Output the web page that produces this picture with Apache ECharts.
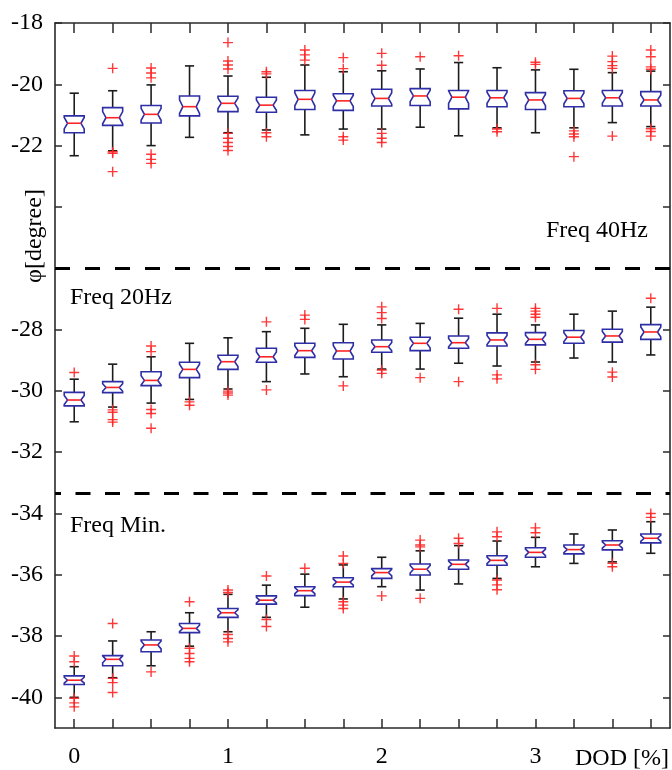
<!DOCTYPE html>
<html>
<head>
<meta charset="utf-8">
<script src="https://cdn.jsdelivr.net/npm/echarts@6/dist/echarts.min.js"></script>
<style>
  html, body { margin: 0; padding: 0; background: #fff; }
  #chart { width: 672px; height: 770px; }
</style>
</head>
<body>
<div id="chart"></div>
<script>
// Depth of discharge steps (x categories)
const dod = ['0', '0.25', '0.5', '0.75', '1', '1.25', '1.5', '1.75',
             '2', '2.25', '2.5', '2.75', '3', '3.25', '3.5', '3.75'];

// Box statistics per DOD step: [lower whisker, Q1, median, Q3, upper whisker]
const box40Hz = [
  [-22.33, -21.58, -21.27, -21.03, -20.29],
  [-22.17, -21.34, -21.09, -20.76, -20.21],
  [-22.00, -21.26, -20.98, -20.69, -20.02],
  [-21.73, -21.03, -20.73, -20.38, -19.40],
  [-21.58, -20.89, -20.62, -20.39, -19.73],
  [-21.49, -20.91, -20.68, -20.42, -19.77],
  [-21.65, -20.82, -20.49, -20.20, -19.37],
  [-21.46, -20.85, -20.54, -20.31, -19.59],
  [-21.46, -20.71, -20.46, -20.16, -19.56],
  [-21.40, -20.69, -20.38, -20.14, -19.50],
  [-21.68, -20.80, -20.42, -20.20, -19.29],
  [-21.42, -20.73, -20.44, -20.20, -19.46],
  [-21.58, -20.82, -20.51, -20.27, -19.53],
  [-21.42, -20.73, -20.46, -20.21, -19.51],
  [-21.25, -20.71, -20.44, -20.20, -19.62],
  [-21.38, -20.71, -20.51, -20.24, -19.57]
];
const outliers40Hz = [
  [],
  [-19.48, -22.20, -22.25, -22.85],
  [-19.47, -19.63, -19.79, -22.28, -22.45, -22.58],
  [],
  [-18.64, -19.24, -19.37, -19.50, -21.60, -21.76, -21.90, -22.03, -22.16],
  [-19.59, -19.66, -21.58, -21.71],
  [-18.88, -19.04, -19.21],
  [-19.13, -19.49, -21.71, -21.82],
  [-18.99, -19.38, -21.60, -21.76, -21.90],
  [-19.10],
  [-19.07],
  [-21.46, -21.55],
  [-19.28, -19.35],
  [-21.52, -21.62, -21.71, -22.36],
  [-19.08, -19.26, -19.39, -19.48, -21.69],
  [-18.88, -19.10, -19.43, -19.51, -21.45, -21.54, -21.69]
];

const box20Hz = [
  [-31.01, -30.49, -30.30, -30.05, -29.62],
  [-30.53, -30.06, -29.89, -29.70, -29.13],
  [-30.40, -29.83, -29.66, -29.38, -28.89],
  [-30.28, -29.57, -29.30, -29.07, -28.45],
  [-29.94, -29.30, -29.05, -28.84, -28.27],
  [-29.70, -29.07, -28.89, -28.61, -28.07],
  [-29.45, -28.91, -28.69, -28.45, -27.96],
  [-29.54, -28.96, -28.70, -28.43, -27.83],
  [-29.29, -28.74, -28.56, -28.34, -27.85],
  [-29.29, -28.69, -28.45, -28.25, -27.80],
  [-29.10, -28.61, -28.43, -28.21, -27.63],
  [-29.19, -28.54, -28.34, -28.11, -27.50],
  [-29.06, -28.50, -28.32, -28.10, -27.85],
  [-28.93, -28.45, -28.25, -28.03, -27.50],
  [-29.06, -28.41, -28.21, -27.99, -27.40],
  [-28.83, -28.32, -28.08, -27.84, -27.27]
];
const outliers20Hz = [
  [-29.40],
  [-30.62, -30.70, -30.94, -31.02],
  [-28.54, -28.72, -30.61, -30.74, -31.22],
  [-30.36, -30.47],
  [-30.01, -30.07, -30.14],
  [-27.75, -29.97],
  [-27.53, -27.67],
  [-29.84],
  [-27.26, -27.45, -27.64, -29.32, -29.43],
  [-29.57],
  [-27.34, -29.70],
  [-27.31, -29.48, -29.61],
  [-27.31, -27.40, -27.50, -27.60, -29.15, -29.30],
  [],
  [-29.39, -29.55],
  [-26.98]
];

const boxMin = [
  [-40.00, -39.58, -39.44, -39.30, -39.00],
  [-39.36, -38.97, -38.76, -38.64, -38.16],
  [-38.97, -38.51, -38.29, -38.13, -37.86],
  [-38.33, -37.89, -37.75, -37.59, -37.24],
  [-37.86, -37.39, -37.24, -37.10, -36.64],
  [-37.39, -36.96, -36.83, -36.69, -36.34],
  [-37.06, -36.68, -36.52, -36.39, -35.98],
  [-36.79, -36.39, -36.24, -36.10, -35.68],
  [-36.39, -36.12, -35.93, -35.80, -35.43],
  [-36.50, -36.01, -35.82, -35.65, -35.22],
  [-36.30, -35.82, -35.66, -35.52, -35.05],
  [-36.12, -35.69, -35.53, -35.38, -34.90],
  [-35.74, -35.43, -35.27, -35.12, -34.78],
  [-35.63, -35.32, -35.18, -35.03, -34.67],
  [-35.58, -35.19, -35.03, -34.89, -34.54],
  [-35.30, -34.96, -34.81, -34.67, -34.27]
];
const outliersMin = [
  [-38.65, -38.84, -40.03, -40.18, -40.31],
  [-37.59, -39.38, -39.52, -39.84],
  [-39.17],
  [-36.88, -38.40, -38.57, -38.73, -38.84],
  [-36.50, -36.58, -37.95, -38.08, -38.19],
  [-36.04, -37.46, -37.69],
  [-35.79],
  [-35.39, -35.63, -36.88, -36.99, -37.10],
  [-36.69],
  [-34.87, -35.03, -35.09, -36.77],
  [-34.81, -34.98],
  [-34.60, -34.76, -36.17, -36.33, -36.49],
  [-34.47, -34.63],
  [],
  [-35.63, -35.74],
  [-34.00, -34.13]
];

// Panel separators (phase values) and axis ticks
const separators = [-26, -33.35];
const yTickValues = [-40, -38, -36, -34, -32, -30, -28, -26, -24, -22, -20, -18];
const yLabelValues = [-40, -38, -36, -34, -32, -30, -28, -22, -20, -18];

const FONT = "'Liberation Serif', 'Times New Roman', serif";
const BOX_COLOR = '#2e2ea6';
const RED = '#ff2424';
const INK = '#1c1c1c';

function boxRows(stats) {
  return stats.map((s, i) => [i].concat(s));
}
function outlierPoints(list) {
  const pts = [];
  list.forEach((vals, i) => vals.forEach(v => pts.push([i, v])));
  return pts;
}

// Notched box: whiskers, notched box outline, median line
function renderNotchedBox(params, api) {
  const i = api.value(0);
  const lo = api.value(1), q1 = api.value(2), med = api.value(3), q3 = api.value(4), hi = api.value(5);
  const py = v => api.coord([i, v])[1];
  const cx = api.coord([i, med])[0];
  const band = api.size([1, 0])[0];
  const hw = band * 0.26;
  const inset = hw * 0.33;
  const capW = 4.6;
  const yLo = py(lo), yQ1 = py(q1), yMed = py(med), yQ3 = py(q3), yHi = py(hi);
  const iqr = yQ1 - yQ3;
  const nDown = Math.min(iqr * 0.34, yQ1 - yMed);
  const nUp = Math.min(iqr * 0.34, yMed - yQ3);
  const whiskerStyle = { stroke: INK, lineWidth: 1.6 };
  const l = cx - hw, r = cx + hw;
  return {
    type: 'group',
    children: [
      { type: 'line', shape: { x1: cx, y1: yQ3, x2: cx, y2: yHi }, style: whiskerStyle },
      { type: 'line', shape: { x1: cx, y1: yQ1, x2: cx, y2: yLo }, style: whiskerStyle },
      { type: 'line', shape: { x1: cx - capW, y1: yHi, x2: cx + capW, y2: yHi }, style: whiskerStyle },
      { type: 'line', shape: { x1: cx - capW, y1: yLo, x2: cx + capW, y2: yLo }, style: whiskerStyle },
      {
        type: 'polygon',
        shape: {
          points: [
            [l, yQ1], [l, yMed + nDown], [l + inset, yMed], [l, yMed - nUp], [l, yQ3],
            [r, yQ3], [r, yMed - nUp], [r - inset, yMed], [r, yMed + nDown], [r, yQ1]
          ]
        },
        style: { fill: '#fff', stroke: BOX_COLOR, lineWidth: 1.6 }
      },
      { type: 'line', shape: { x1: l + inset, y1: yMed, x2: r - inset, y2: yMed }, style: { stroke: RED, lineWidth: 1.6 } }
    ]
  };
}

const plusSymbol = 'path://M4.3,0H5.7V4.3H10V5.7H5.7V10H4.3V5.7H0V4.3H4.3Z';

function boxSeries(name, stats) {
  return {
    name: name,
    type: 'custom',
    renderItem: renderNotchedBox,
    encode: { x: 0, y: [1, 2, 3, 4, 5] },
    data: boxRows(stats),
    z: 3
  };
}
function outlierSeries(name, list) {
  return {
    name: name,
    type: 'scatter',
    symbol: plusSymbol,
    symbolSize: 10,
    itemStyle: { color: RED, opacity: 0.9 },
    data: outlierPoints(list),
    z: 4
  };
}

const chart = echarts.init(document.getElementById('chart'), null, { renderer: 'canvas' });

const axisLine = { show: true, lineStyle: { color: '#2a2a2a', width: 1.6 } };
const yTick = { show: true, inside: true, length: 7, customValues: yTickValues, lineStyle: { color: '#2a2a2a', width: 1.5 } };

const textItems = [
  {
    type: 'text', x: 35, y: 236, rotation: Math.PI / 2,
    style: { text: 'φ[degree]', font: '24px ' + FONT, fill: '#000', textAlign: 'center', textVerticalAlign: 'middle' }
  },
  {
    type: 'text', x: 648, y: 231,
    style: { text: 'Freq 40Hz', font: '24px ' + FONT, fill: '#000', textAlign: 'right', textVerticalAlign: 'middle' }
  },
  {
    type: 'text', x: 70, y: 298,
    style: { text: 'Freq 20Hz', font: '24px ' + FONT, fill: '#000', textAlign: 'left', textVerticalAlign: 'middle' }
  },
  {
    type: 'text', x: 70, y: 526,
    style: { text: 'Freq Min.', font: '24px ' + FONT, fill: '#000', textAlign: 'left', textVerticalAlign: 'middle' }
  },
  {
    type: 'text', x: 669, y: 759,
    style: { text: 'DOD [%]', font: '24px ' + FONT, fill: '#000', textAlign: 'right', textVerticalAlign: 'middle' }
  }
];

chart.setOption({
  animation: false,
  backgroundColor: '#fff',
  textStyle: { fontFamily: FONT },
  grid: { left: 55, right: 2, top: 23, bottom: 42, containLabel: false },
  xAxis: [
    {
      type: 'category',
      data: dod,
      position: 'bottom',
      axisLine: axisLine,
      axisTick: { show: true, inside: true, interval: 0, alignWithLabel: true, length: 9, lineStyle: { color: '#2a2a2a', width: 1.5 } },
      axisLabel: {
        interval: 3,
        margin: 17,
        color: '#000',
        fontFamily: FONT,
        fontSize: 24,
        formatter: v => String(parseFloat(v))
      },
      splitLine: { show: false }
    },
    {
      type: 'category',
      data: dod,
      position: 'top',
      axisLine: axisLine,
      axisTick: { show: true, inside: true, interval: 0, alignWithLabel: true, length: 10, lineStyle: { color: '#2a2a2a', width: 1.5 } },
      axisLabel: { show: false },
      splitLine: { show: false }
    }
  ],
  yAxis: [
    {
      type: 'value', min: -41, max: -18, position: 'left',
      axisLine: axisLine, axisTick: yTick,
      axisLabel: { show: false },
      splitLine: { show: false }
    },
    {
      type: 'value', min: -41, max: -18, position: 'right',
      axisLine: axisLine, axisTick: yTick,
      axisLabel: { show: false },
      splitLine: { show: false }
    }
  ],
  series: [
    boxSeries('Freq 40Hz', box40Hz),
    boxSeries('Freq 20Hz', box20Hz),
    boxSeries('Freq Min.', boxMin),
    outlierSeries('Freq 40Hz outliers', outliers40Hz),
    outlierSeries('Freq 20Hz outliers', outliers20Hz),
    outlierSeries('Freq Min. outliers', outliersMin),
    {
      name: 'separators',
      type: 'line',
      data: [],
      markLine: {
        silent: true,
        symbol: 'none',
        label: { show: false },
        data: [
          { yAxis: separators[0], lineStyle: { type: [15, 15], dashOffset: 0, color: '#000', width: 3 } },
          { yAxis: separators[1], lineStyle: { type: [15, 14.5], dashOffset: 9, color: '#000', width: 3 } }
        ]
      }
    }
  ],
  graphic: textItems
});

// Y tick labels, placed through the y axis scale
const yLabelItems = yLabelValues.map(v => ({
  type: 'text',
  x: 43,
  y: chart.convertToPixel({ yAxisIndex: 0 }, v),
  style: {
    text: '-' + Math.abs(v),
    font: '24px ' + FONT,
    fill: '#000',
    textAlign: 'right',
    textVerticalAlign: 'middle'
  }
}));
chart.setOption({ graphic: textItems.concat(yLabelItems) });
</script>
</body>
</html>
